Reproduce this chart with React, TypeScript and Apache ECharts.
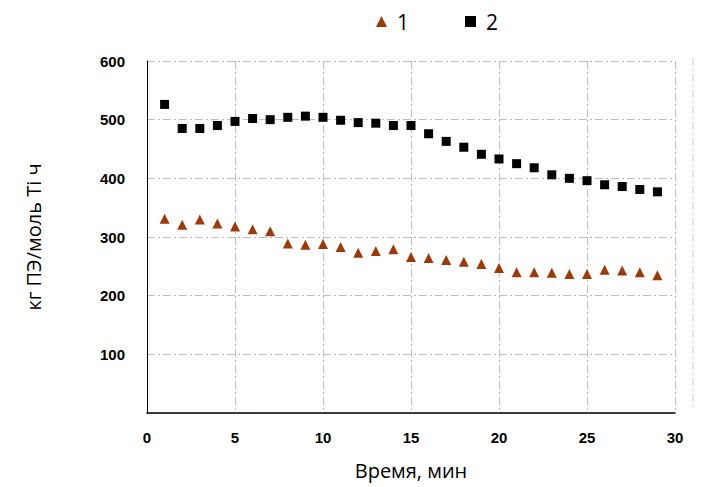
import React, { useEffect, useRef } from "react";
import * as echarts from "echarts";

const times = [1, 2, 3, 4, 5, 6, 7, 8, 9, 10, 11, 12, 13, 14, 15, 16, 17, 18, 19, 20, 21, 22, 23, 24, 25, 26, 27, 28, 29];
const series1 = [331, 321, 330, 323, 318, 313, 310, 289, 287, 288, 283, 273, 276, 279, 266, 264, 261, 258, 254, 247, 240, 240, 239, 237, 237, 244, 243, 240, 235];
const series2 = [526, 485, 485, 490, 497, 502, 500, 504, 506, 504, 499, 495, 494, 490, 490, 476, 463, 453, 441, 433, 425, 418, 406, 400, 396, 389, 386, 381, 377];
const seriesNames = ["1", "2"];
const xTicks = { min: 0, max: 30, interval: 5 };
const yTicks = { min: 0, max: 600, interval: 100 };

export default function App() {
  const ref = useRef<HTMLDivElement>(null);
  useEffect(() => {
    if (!ref.current) return;
    const chart = echarts.init(ref.current, undefined, { renderer: "svg" });
    const grid = "#bdbdbd";
    const dash = [8, 3, 2, 3];
    chart.setOption({
      animation: false,
      backgroundColor: "#ffffff",
      textStyle: { fontFamily: "Liberation Sans" },
      legend: {
        top: 6,
        left: 371,
        itemGap: 56,
        itemWidth: 11,
        itemHeight: 11,
        textStyle: { fontSize: 21, color: "#000", fontFamily: "Open Sans", padding: [0, 0, 0, 5] },
        data: [
          { name: seriesNames[0], icon: "triangle" },
          { name: seriesNames[1], icon: "rect" },
        ],
      },
      grid: { left: 147, right: 34, top: 61, bottom: 74, containLabel: false },
      xAxis: {
        type: "value",
        min: xTicks.min,
        max: xTicks.max,
        interval: xTicks.interval,
        name: "Время, мин",
        nameLocation: "middle",
        nameGap: 47,
        nameTextStyle: { fontSize: 20, color: "#000", fontFamily: "Open Sans" },
        axisLine: { show: true, lineStyle: { color: "#000", width: 1.5 } },
        axisTick: { show: false },
        axisLabel: { color: "#000", fontSize: 15, fontWeight: "bold", margin: 17 },
        splitLine: { show: true, lineStyle: { color: grid, type: dash, width: 1 } },
      },
      yAxis: {
        type: "value",
        min: yTicks.min,
        max: yTicks.max,
        interval: yTicks.interval,
        name: "кг ПЭ/моль Ti ч",
        nameLocation: "middle",
        nameGap: 104,
        nameRotate: 90,
        nameTextStyle: { fontSize: 20, color: "#000", fontFamily: "Open Sans" },
        axisLine: { show: true, lineStyle: { color: "#000", width: 1 } },
        axisTick: { show: false },
        axisLabel: {
          color: "#000",
          fontSize: 15,
          fontWeight: "bold",
          margin: 22,
          showMinLabel: false,
        },
        splitLine: { show: true, lineStyle: { color: grid, type: dash, width: 1 } },
      },
      graphic: [
        {
          type: "line",
          shape: { x1: 693, y1: 58, x2: 693, y2: 410 },
          style: { stroke: "#cfcfcf", lineWidth: 1, lineDash: dash },
        },
      ],
      series: [
        {
          name: seriesNames[0],
          type: "scatter",
          symbol: "triangle",
          symbolSize: [10, 10],
          itemStyle: { color: "#9E3A08", opacity: 1 },
          data: times.map((t, i) => [t, series1[i]]),
        },
        {
          name: seriesNames[1],
          type: "scatter",
          symbol: "rect",
          symbolSize: [9, 9],
          itemStyle: { color: "#000000", opacity: 1 },
          data: times.map((t, i) => [t, series2[i]]),
        },
      ],
    });
    return () => chart.dispose();
  }, []);
  return <div ref={ref} style={{ width: 709, height: 487, position: "absolute", left: 0, top: 0 }} />;
}
